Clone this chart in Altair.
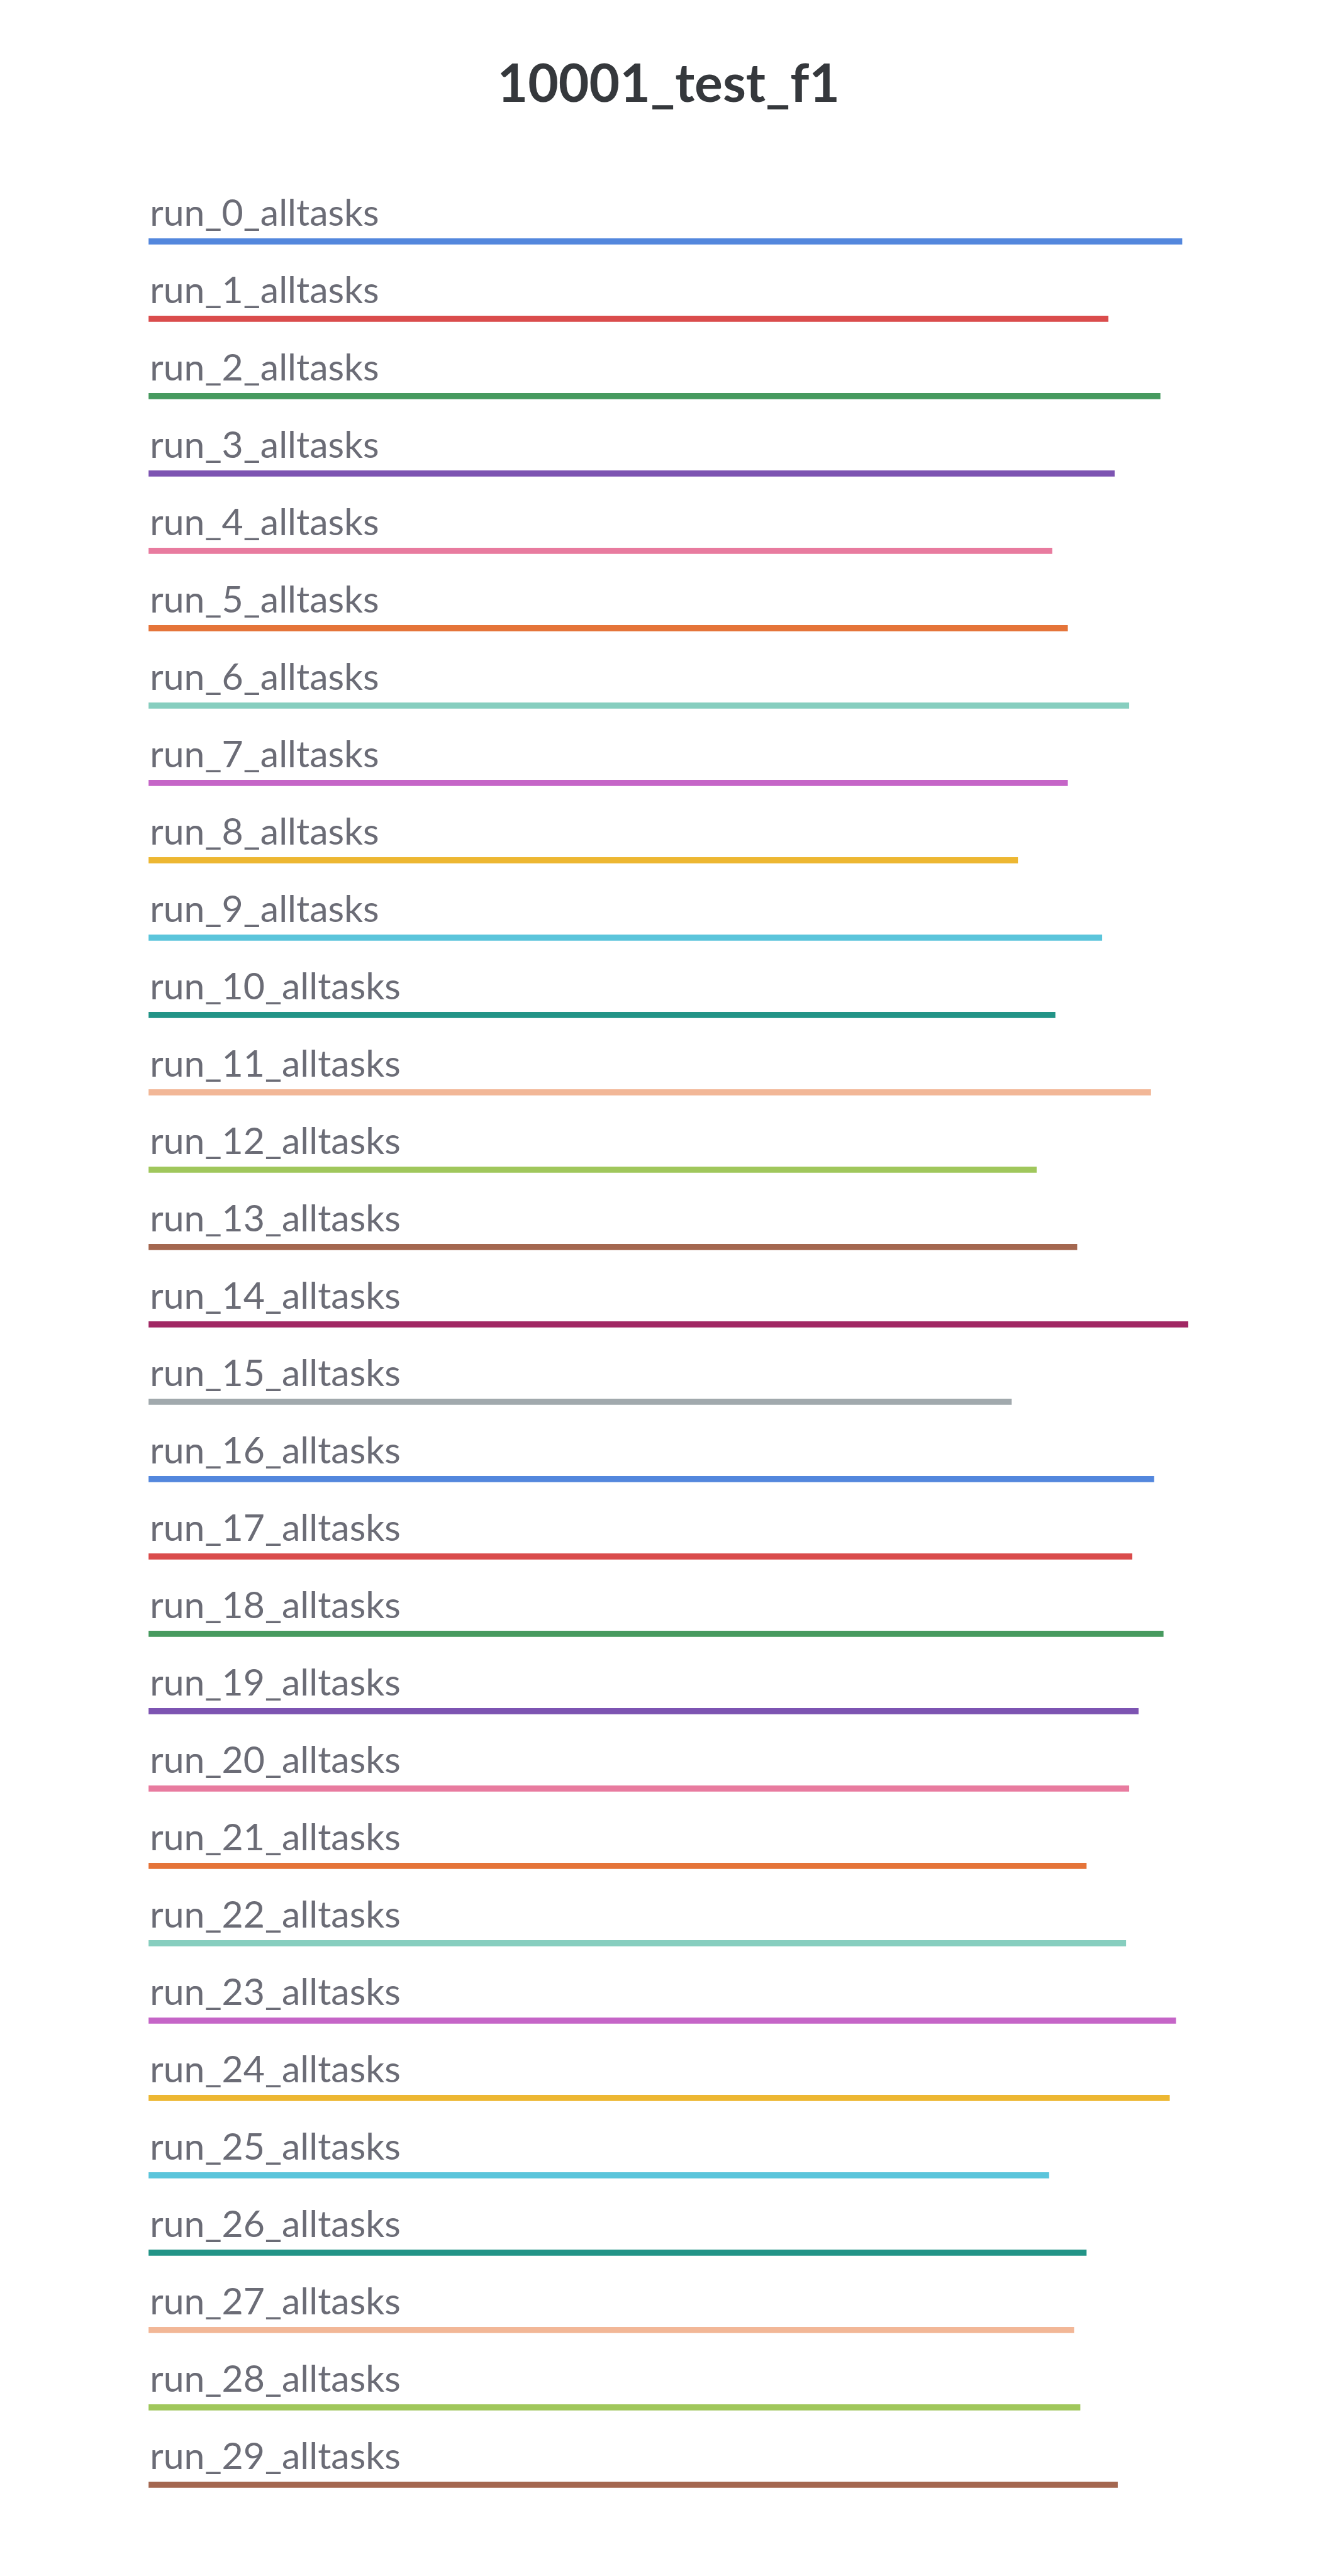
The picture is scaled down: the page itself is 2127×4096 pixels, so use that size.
import altair as alt
import pandas as pd

runs = [f"run_{i}_alltasks" for i in range(30)]
values = [0.994, 0.923, 0.973, 0.929, 0.869, 0.884, 0.943, 0.884, 0.836, 0.917,
          0.872, 0.964, 0.854, 0.893, 1.000, 0.830, 0.967, 0.946, 0.976, 0.952,
          0.943, 0.902, 0.940, 0.988, 0.982, 0.866, 0.902, 0.890, 0.896, 0.932]
palette = ["#5387DD", "#DA4C4C", "#479A5F", "#7D54B2", "#E87B9F", "#E57439",
           "#87CEBF", "#C565C7", "#EDB732", "#5BC5DB", "#229487", "#F2B797",
           "#A0C75C", "#A46750", "#A12864", "#A1A9AD"]
colors = [palette[i % len(palette)] for i in range(30)]

df = pd.DataFrame({"run": runs, "value": values})

W = 1653.1
STEP = 123.0
H = STEP * len(runs)

y_enc = alt.Y("run:N", sort=runs, axis=None,
              scale=alt.Scale(paddingInner=0, paddingOuter=0))
x_enc = alt.X("value:Q", axis=None,
              scale=alt.Scale(domain=[0, 1], nice=False, zero=True))

bars = alt.Chart(df).mark_bar(size=9.84).encode(
    x=x_enc,
    y=y_enc,
    color=alt.Color("run:N", scale=alt.Scale(domain=runs, range=colors), legend=None),
)

labels = alt.Chart(df).mark_text(
    align="left", baseline="alphabetic", dy=-25.2, dx=2,
    font="Lato", fontSize=59, color="#6B6C76",
).encode(
    x=alt.datum(0, scale=alt.Scale(domain=[0, 1], nice=False, zero=True)),
    y=y_enc,
    text="run:N",
)

chart = alt.layer(bars, labels).properties(
    width=W,
    height=H,
    background="white",
    title=alt.TitleParams(
        "10001_test_f1", anchor="middle", frame="group", baseline="alphabetic",
        offset=66, font="Lato", fontSize=84, fontWeight="bold", color="#35383C",
    ),
    padding={"left": 236.2, "top": 322.3, "right": 0, "bottom": 0},
    autosize=alt.AutoSizeParams(type="none"),
).configure_view(strokeWidth=0, stroke=None)

chart.save("out.html", embed_options={"renderer": "svg", "actions": False})
